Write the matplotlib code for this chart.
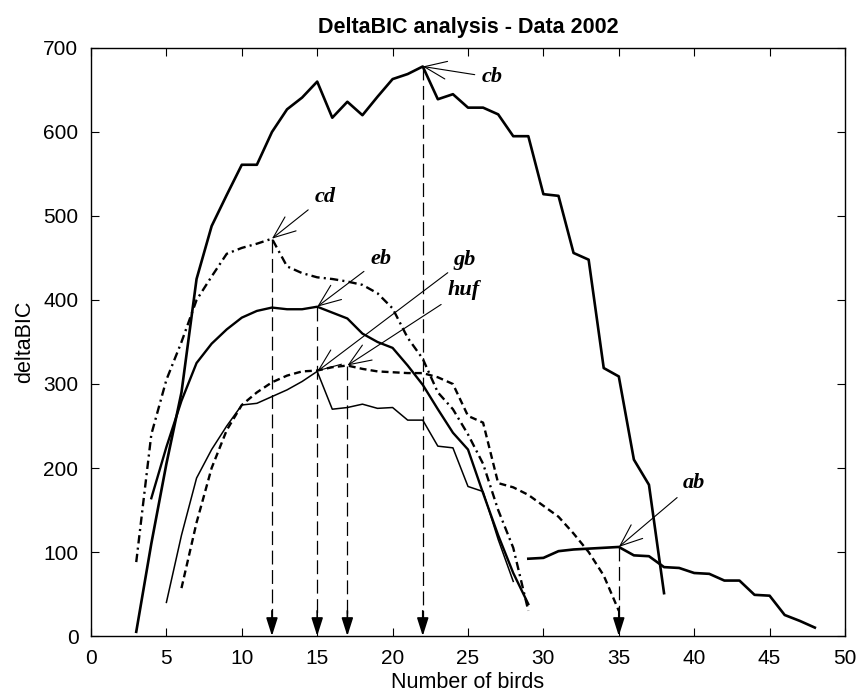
import matplotlib
matplotlib.use('Agg')
import matplotlib.pyplot as plt

plt.rcParams['font.family'] = ['Liberation Sans', 'DejaVu Sans']
plt.rcParams['lines.scale_dashes'] = False

# 데이터
cb_x = list(range(3, 39))
cb_y = [5, 110, 205, 290, 425, 488, 525, 561, 561, 600, 627, 641, 660, 617, 636, 620,
        642, 663, 669, 678, 639, 645, 629, 629, 621, 595, 595, 526, 524, 456, 448, 319,
        309, 210, 180, 51]

cd_x = list(range(3, 30))
cd_y = [88, 240, 305, 350, 400, 428, 455, 462, 467, 473, 440, 432, 427, 425, 422, 418,
        408, 390, 355, 330, 290, 270, 240, 205, 150, 105, 30]

eb_x = list(range(4, 30))
eb_y = [164, 225, 280, 325, 348, 365, 379, 387, 391, 389, 389, 392, 385, 378, 360, 350,
        343, 322, 299, 270, 242, 222, 170, 120, 75, 38]

gb_x = list(range(5, 29))
gb_y = [40, 120, 188, 222, 250, 275, 277, 285, 293, 303, 315, 270, 272, 276, 271, 272,
        257, 257, 226, 224, 178, 172, 115, 65]

huf_x = list(range(6, 36))
huf_y = [57, 135, 200, 245, 275, 290, 302, 310, 315, 316, 320, 322, 318, 315, 314, 313,
         313, 308, 300, 262, 254, 182, 177, 168, 155, 142, 122, 100, 72, 30]

ab_x = list(range(29, 49))
ab_y = [92, 93, 101, 103, 104, 105, 106, 96, 95, 82, 81, 75, 74, 66, 66, 49, 48, 25, 18, 10]

# 라벨과 최대점
labels = ['cb', 'cd', 'eb', 'gb', 'huf', 'ab']
peak_x = [22, 12, 15, 15, 17, 35]
peak_y = [678, 473, 392, 315, 322, 106]
label_x = [26.6, 15.5, 19.2, 24.8, 24.7, 40.0]
label_y = [665, 523, 449, 448, 412, 182]

drop_x = [12, 15, 17, 22, 35]
drop_top = [473, 392, 322, 678, 106]

fig = plt.figure(figsize=(8.56, 6.96), dpi=100)
ax = fig.add_axes([91 / 856, 60 / 696, 754 / 856, 588 / 696])

ax.plot(cb_x, cb_y, color='k', lw=1.9)
ax.plot(cd_x, cd_y, color='k', lw=1.7, linestyle=(0, (6, 3, 1.5, 3)))
ax.plot(eb_x, eb_y, color='k', lw=1.7)
ax.plot(gb_x, gb_y, color='k', lw=1.1)
ax.plot(huf_x, huf_y, color='k', lw=1.7, linestyle=(0, (5, 3)))
ax.plot(ab_x, ab_y, color='k', lw=1.9)

# 최대점에서 아래로 점선 화살표
for xv, top in zip(drop_x, drop_top):
    ax.plot([xv, xv], [top, 20], color='k', lw=0.9, linestyle=(0, (10, 4)))
    ax.annotate('', xy=(xv, 0), xytext=(xv, 30),
                arrowprops=dict(arrowstyle='-|>,head_length=1.1,head_width=0.35',
                                color='k', lw=1.2, shrinkA=0, shrinkB=0))

# 라벨 화살표
for lab, px, py, tx, ty in zip(labels, peak_x, peak_y, label_x, label_y):
    ax.annotate(lab, xy=(px, py), xytext=(tx, ty), ha='center', va='center',
                fontsize=16, fontweight='bold', fontstyle='italic',
                family=['Liberation Serif', 'DejaVu Serif'],
                arrowprops=dict(arrowstyle='->,head_length=1.0,head_width=0.4',
                                color='k', lw=0.8, shrinkA=3, shrinkB=0))

ax.set_xlim(0, 50)
ax.set_ylim(0, 700)
ax.set_xticks(range(0, 51, 5))
ax.set_yticks(range(0, 701, 100))
ax.tick_params(direction='in', top=True, right=True, labelsize=15, length=6, pad=9)
for s in ax.spines.values():
    s.set_linewidth(1.0)

ax.set_title('DeltaBIC analysis - Data 2002', fontsize=15.5, fontweight='bold', pad=11)
ax.set_xlabel('Number of birds', fontsize=15.5, labelpad=3)
ax.set_ylabel('deltaBIC', fontsize=15.5, labelpad=6)

fig.savefig('out.png', dpi=100)
